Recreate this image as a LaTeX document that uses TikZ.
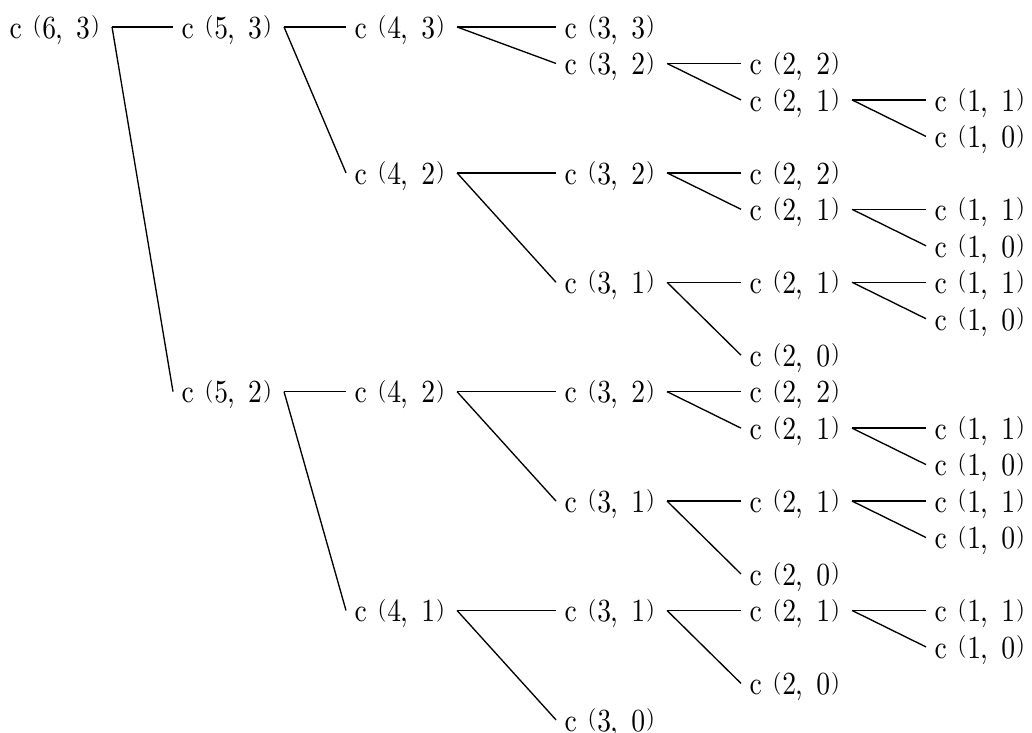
\documentclass[tikz,border=0pt]{standalone}
\usepackage{fontspec}
\setmainfont{lmroman10-regular.otf}
\usepackage{graphicx}
\usepackage{tikz}
\usetikzlibrary{
    positioning,
}
\newcommand{\onecell}[2][c]{\makebox[8.44pt][#1]{#2}}
\newcommand{\glyph}[1]{\scalebox{0.9}[1.05]{#1}}
\newcommand{\openp}{\raisebox{4.25pt}{\fontsize{17}{20}\selectfont(}}
\newcommand{\closep}{\raisebox{4.25pt}{\fontsize{17}{20}\selectfont)}}
\newcommand{\comb}[2]{\raisebox{0pt}[17pt][0pt]{%
    \onecell{\glyph{c}}\onecell{}\onecell[l]{\openp}\onecell{\glyph{#1}}%
    \onecell[l]{\glyph{,}}\onecell{}\onecell{\glyph{#2}}\onecell[r]{\closep}}}
\tikzset{
    % Node styles
    term/.style={anchor=west, inner sep=0pt, outer sep=0pt,
                 font=\fontsize{23}{26}\selectfont},
    % Line styles
    branch line/.style={line width=1pt},
}
\newcommand{\branch}[2]{\draw[branch line] ([xshift=9pt]#1.east) -- ([xshift=-6.75pt]#2.west);}

\begin{document}
\begin{tikzpicture}[x=0.75pt, y=-27.35pt]
    \useasboundingbox (0,-0.74) rectangle (1032,19.36);

    % Level 6
    \node[term] (n63) at (10,0) {\comb{6}{3}};

    % Level 5
    \node[term] (n53) at (182,0) {\comb{5}{3}};
    \node[term] (n52) at (182,10) {\comb{5}{2}};

    % Level 4
    \node[term] (n43) at (355,0) {\comb{4}{3}};
    \node[term] (n42a) at (355,4) {\comb{4}{2}};
    \node[term] (n42b) at (355,10) {\comb{4}{2}};
    \node[term] (n41) at (355,16) {\comb{4}{1}};

    % Level 3
    \node[term] (n33) at (565,0) {\comb{3}{3}};
    \node[term] (n32a) at (565,1) {\comb{3}{2}};
    \node[term] (n32b) at (565,4) {\comb{3}{2}};
    \node[term] (n31a) at (565,7) {\comb{3}{1}};
    \node[term] (n32c) at (565,10) {\comb{3}{2}};
    \node[term] (n31b) at (565,13) {\comb{3}{1}};
    \node[term] (n31c) at (565,16) {\comb{3}{1}};
    \node[term] (n30) at (565,19) {\comb{3}{0}};

    % Level 2
    \node[term] (n22a) at (750,1) {\comb{2}{2}};
    \node[term] (n21a) at (750,2) {\comb{2}{1}};
    \node[term] (n22b) at (750,4) {\comb{2}{2}};
    \node[term] (n21b) at (750,5) {\comb{2}{1}};
    \node[term] (n21c) at (750,7) {\comb{2}{1}};
    \node[term] (n20a) at (750,9) {\comb{2}{0}};
    \node[term] (n22c) at (750,10) {\comb{2}{2}};
    \node[term] (n21d) at (750,11) {\comb{2}{1}};
    \node[term] (n21e) at (750,13) {\comb{2}{1}};
    \node[term] (n20b) at (750,15) {\comb{2}{0}};
    \node[term] (n21f) at (750,16) {\comb{2}{1}};
    \node[term] (n20c) at (750,18) {\comb{2}{0}};

    % Level 1
    \node[term] (n11a) at (935,2) {\comb{1}{1}};
    \node[term] (n10a) at (935,3) {\comb{1}{0}};
    \node[term] (n11b) at (935,5) {\comb{1}{1}};
    \node[term] (n10b) at (935,6) {\comb{1}{0}};
    \node[term] (n11c) at (935,7) {\comb{1}{1}};
    \node[term] (n10c) at (935,8) {\comb{1}{0}};
    \node[term] (n11d) at (935,11) {\comb{1}{1}};
    \node[term] (n10d) at (935,12) {\comb{1}{0}};
    \node[term] (n11e) at (935,13) {\comb{1}{1}};
    \node[term] (n10e) at (935,14) {\comb{1}{0}};
    \node[term] (n11f) at (935,16) {\comb{1}{1}};
    \node[term] (n10f) at (935,17) {\comb{1}{0}};

    % Branches
    \branch{n63}{n53} \branch{n63}{n52}
    \branch{n53}{n43} \branch{n53}{n42a}
    \branch{n52}{n42b} \branch{n52}{n41}
    \branch{n43}{n33} \branch{n43}{n32a}
    \branch{n42a}{n32b} \branch{n42a}{n31a}
    \branch{n42b}{n32c} \branch{n42b}{n31b}
    \branch{n41}{n31c} \branch{n41}{n30}
    \branch{n32a}{n22a} \branch{n32a}{n21a}
    \branch{n32b}{n22b} \branch{n32b}{n21b}
    \branch{n31a}{n21c} \branch{n31a}{n20a}
    \branch{n32c}{n22c} \branch{n32c}{n21d}
    \branch{n31b}{n21e} \branch{n31b}{n20b}
    \branch{n31c}{n21f} \branch{n31c}{n20c}
    \branch{n21a}{n11a} \branch{n21a}{n10a}
    \branch{n21b}{n11b} \branch{n21b}{n10b}
    \branch{n21c}{n11c} \branch{n21c}{n10c}
    \branch{n21d}{n11d} \branch{n21d}{n10d}
    \branch{n21e}{n11e} \branch{n21e}{n10e}
    \branch{n21f}{n11f} \branch{n21f}{n10f}
\end{tikzpicture}
\end{document}
